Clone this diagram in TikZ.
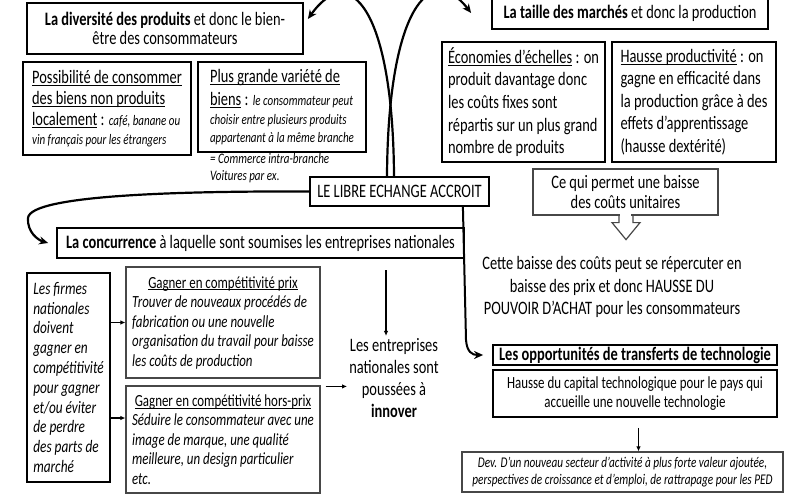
\documentclass[tikz,border=0pt]{standalone}
\usepackage{fontspec}
\setmainfont{Carlito}[FakeStretch=0.76]
\usepackage{calc}
\usetikzlibrary{arrows.meta,calc}
\newcommand\fs[2]{\fontsize{#1}{#2}\selectfont}
\newcommand\ulx[2][2.4pt]{\leavevmode\setbox0=\hbox{#2}\rlap{\rule[-#1]{\wd0}{0.8pt}}\box0\relax}
\tikzset{
  box/.style={draw=black, line width=1.8pt, inner sep=0pt, text=black},
  gbox/.style={draw=black!72, line width=1.2pt, inner sep=0pt, text=black},
  big/.style={font=\fs{19}{22.6}},
  conn/.style={line width=2.2pt, -{Stealth[length=9pt,width=8pt]}},
  sarr/.style={line width=1.2pt, -{Latex[length=5pt,width=4.5pt]}},
}
\begin{document}
\begin{tikzpicture}[x=1pt,y=-1pt]
\useasboundingbox (0,0) rectangle (799,494);
\fill[white] (0,0) rectangle (799,494);
\clip (0,0) rectangle (799,494);

% top row
\node[box, minimum width=276pt, minimum height=51pt, align=center, font=\fs{19}{19}] (div) at (165,28.5)
  {\textbf{La diversité des produits} et donc le bien-\\être des consommateurs};
\node[box, minimum width=276pt, minimum height=32pt, big] (taille) at (630,13)
  {\textbf{La taille des marchés} et donc la production};

\node[box, minimum width=168pt, minimum height=93pt, align=left, font=\fs{19}{21}] (poss) at (107,108.5)
  {\ulx{Possibilité de consommer}\\
   \ulx{des biens non produits}\\
   \ulx{localement} : {\fs{14.5}{17}\itshape café, banane ou}\\[-1.5pt]
   {\fs{14.5}{17}\itshape vin français pour les étrangers}};
\node[box, minimum width=168pt, minimum height=90pt, align=left, big] (var) at (282,107)
  {\ulx{Plus grande variété de}\\
   \ulx{biens} : {\fs{14.5}{17}\itshape le consommateur peut}\\[-3.6pt]
   {\fs{14.5}{17}\itshape choisir entre plusieurs produits}\\[-4.4pt]
   {\fs{14.5}{17}\itshape appartenant à la même branche}};
\node[anchor=north west, font=\fs{14.5}{17}\itshape, align=left, inner sep=0pt] (intra) at (210,153)
  {= Commerce intra-branche\\Voitures par ex.};

\node[box, minimum width=163pt, minimum height=120pt, align=left, big] (eco) at (523.5,102)
  {\ulx{Économies d’échelles} : on\\produit davantage donc\\les coûts fixes sont\\répartis sur un plus grand\\nombre de produits};
\node[box, minimum width=164pt, minimum height=120pt, align=left, big] (prod) at (694,102)
  {\ulx{Hausse productivité} : on\\gagne en efficacité dans\\la production grâce à des\\effets d’apprentissage\\(hausse dextérité)};

\node[box, minimum width=179pt, minimum height=29pt, big] (libre) at (399.5,191.5) {LE LIBRE ECHANGE ACCROIT};

\node[gbox, minimum width=185pt, minimum height=46pt, align=center, font=\fs{19}{20.7}] (cequi) at (625.5,192)
  {Ce qui permet une baisse\\des coûts unitaires};
\fill[white] ($(cequi.south)+(-5.8,-1.2)$) rectangle ($(cequi.south)+(5.8,1.2)$);
\draw[draw=black!72, line width=1.2pt, line join=miter]
  ($(cequi.south)+(-6.5,0)$) -- ++(0,7) -- ++(-7,0) -- ++(14,17) -- ++(14,-17) -- ++(-7,0) -- ++(0,-7);

\node[big, align=center, inner sep=0pt] (baisse) at (612,287)
  {Cette baisse des coûts peut se répercuter en\\baisse des prix et donc HAUSSE DU\\POUVOIR D’ACHAT pour les consommateurs};

% middle
\node[box, minimum width=407pt, minimum height=30pt, big] (conc) at (260.5,243)
  {\textbf{La concurrence} à laquelle sont soumises les entreprises nationales};

\node[box, minimum width=83pt, minimum height=209pt, align=left, font=\fs{17.5}{19.8}\itshape] (firms) at (68.5,377.5)
  {Les firmes\\nationales\\doivent\\gagner en\\compétitivité\\pour gagner\\et/ou éviter\\de perdre\\des parts de\\marché};

\node[gbox, minimum width=194pt, minimum height=111pt, align=left, font=\fs{17}{19.5}\itshape] (prix) at (223,322.5)
  {\makebox[\widthof{organisation du travail pour baisse}]{\upshape\ulx[2.2pt]{Gagner en compétitivité prix}}\\
   Trouver de nouveaux procédés de\\fabrication ou une nouvelle\\organisation du travail pour baisse\\les coûts de production};
\node[gbox, minimum width=194pt, minimum height=107pt, align=left, font=\fs{17}{19.5}\itshape] (hors) at (223,439.5)
  {\makebox[\widthof{Séduire le consommateur avec une}]{\upshape\ulx[2.2pt]{Gagner en compétitivité hors-prix}}\\
   Séduire le consommateur avec une\\image de marque, une qualité\\meilleure, un design particulier\\etc.};

\node[align=center, inner sep=2pt, font=\fs{19}{22.2}] (ent) at (394,378)
  {Les entreprises\\nationales sont\\poussées à\\\textbf{innover}};

% right bottom
\node[box, minimum width=284pt, minimum height=20pt, big] (opp) at (635,355)
  {\textbf{Les opportunités de transferts de technologie}};
\node[box, minimum width=284pt, minimum height=47pt, align=center, font=\fs{17}{18.5}] (cap) at (635,393.5)
  {Hausse du capital technologique pour le pays qui\\accueille une nouvelle technologie};
\node[gbox, minimum width=321pt, minimum height=40pt, align=center, font=\fs{14.8}{16.5}\itshape] (dev) at (622.5,472)
  {Dev. D’un nouveau secteur d’activité à plus forte valeur ajoutée,\\perspectives de croissance et d’emploi, de rattrapage pour les PED};

% connectors
\draw[conn] ([xshift=-5.5pt]libre.north) .. controls (393,10) and (350,-40) .. ([xshift=4pt,yshift=9.5pt]div.east);
\draw[conn] ([xshift=-12.5pt]libre.north) .. controls (388,10) and (430,-40) .. ([xshift=-20pt]taille.west);
\draw[conn] (libre.west) .. controls (180,191) and (30,195) .. (28,218)
  .. controls (27,232) and (38,240) .. ([xshift=-8pt]conc.west);
\coordinate (bend) at (466,340);
\draw[conn, line width=2pt] ([xshift=-27pt]libre.south east) -- (bend)
  .. controls (467,352) and (472,355) .. ([xshift=-9pt]opp.west);

\draw[sarr] (firms.east |- prix.west) -- (prix.west);
\coordinate (f2) at (110,418);
\draw[sarr] (firms.east |- f2) -- (hors.west |- f2);
\coordinate (h1) at ([xshift=5pt,yshift=-1pt]hors.north east);
\draw[sarr] (h1) -- (ent.west |- h1);
\coordinate (c1) at (386,270);
\draw[sarr] (c1) -- (c1 |- ent.north);
\draw[sarr] ([xshift=3.5pt,yshift=-10pt]cap.south) -- ([xshift=16pt]dev.north);
\end{tikzpicture}
\end{document}
